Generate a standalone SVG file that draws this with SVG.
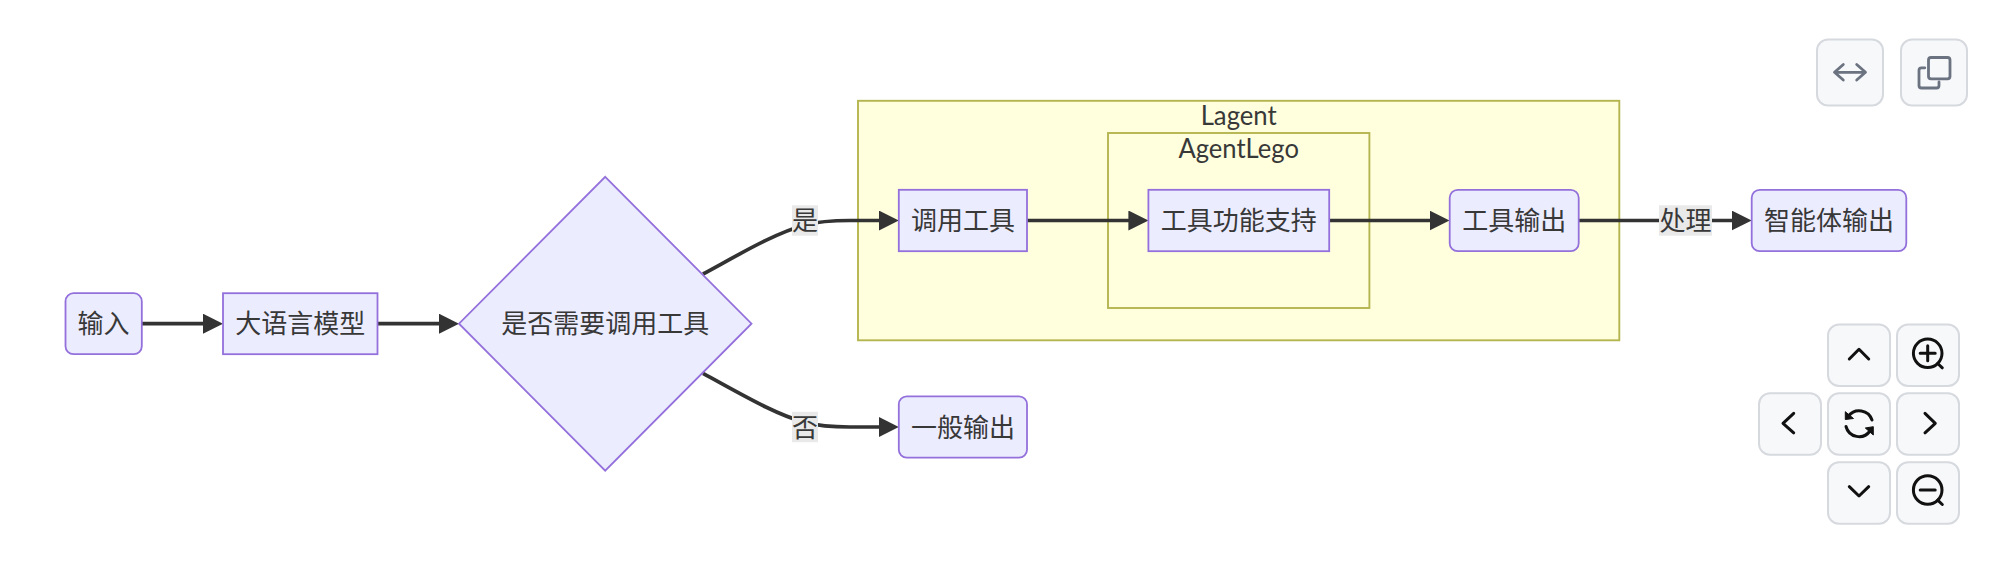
<svg xmlns="http://www.w3.org/2000/svg" width="2006" height="578" viewBox="0 0 2006 578">
<style>
.node{fill:#ececff;stroke:#9370db;stroke-width:1.8}
.cluster{fill:#ffffde;stroke:#b5b550;stroke-width:1.9}
text{font-family:"Noto Sans CJK SC","Noto Sans",sans-serif;font-size:26px;fill:#383838;text-anchor:middle}
.lat{font-family:"Lato","Noto Sans",sans-serif;font-size:27px}
.edge{fill:none;stroke:#333;stroke-width:3.7}
.lbl{fill:#e9e9e9}
.btn{fill:#f7f8fa;stroke:#d6d9de;stroke-width:2}
.ig{fill:none;stroke:#6b7280;stroke-width:2.8;stroke-linecap:round;stroke-linejoin:round}
.ik{fill:none;stroke:#111;stroke-width:3;stroke-linecap:round;stroke-linejoin:round}
</style>
<defs>
<marker id="arrow" markerUnits="userSpaceOnUse" viewBox="0 0 10 10" markerWidth="20" markerHeight="20" refX="5" refY="5" orient="auto"><path d="M0,0L10,5L0,10z" fill="#333"/></marker>
</defs>
<rect width="2006" height="578" fill="#fff"/>
<g id="clusters">
<g id="Lagent"><rect class="cluster" x="858" y="100.8" width="761.3" height="239.5"/><text class="lat" x="1238.7" y="125" textLength="76" lengthAdjust="spacingAndGlyphs">Lagent</text></g>
<g id="AgentLego"><rect class="cluster" x="1108" y="133" width="261.4" height="175"/><text class="lat" x="1238.7" y="158" textLength="120.5" lengthAdjust="spacingAndGlyphs">AgentLego</text></g>
</g>
<g id="connectors">
<path class="edge" marker-end="url(#arrow)" d="M141.8,323.7H213"/>
<path class="edge" marker-end="url(#arrow)" d="M377.5,323.7H449"/>
<path class="edge" marker-end="url(#arrow)" d="M703,274C740,254 775,233 805,225C818,221.5 832,220.5 850,220.5H888.8"/>
<path class="edge" marker-end="url(#arrow)" d="M703,373.4C740,393.4 775,414.4 805,422.4C818,425.9 832,427 850,427H888.8"/>
<path class="edge" marker-end="url(#arrow)" d="M1027,220.5H1138.4"/>
<path class="edge" marker-end="url(#arrow)" d="M1329.2,220.5H1439.5"/>
<path class="edge" marker-end="url(#arrow)" d="M1578.7,220.5H1741.7"/>
</g>
<g id="edge-labels">
<g id="label-yes"><rect class="lbl" x="792" y="205.3" width="26" height="30.4"/><text x="805" y="230">是</text></g>
<g id="label-no"><rect class="lbl" x="792" y="411.8" width="26" height="30.4"/><text x="805" y="436.5">否</text></g>
<g id="label-process"><rect class="lbl" x="1659" y="205.3" width="53" height="30.4"/><text x="1685.5" y="230">处理</text></g>
</g>
<g id="n-input"><rect class="node" x="65.5" y="293.2" width="76.3" height="61" rx="8"/><text x="103.6" y="333.2">输入</text></g>
<g id="n-llm"><rect class="node" x="223" y="293.2" width="154.5" height="61"/><text x="300.2" y="333.2">大语言模型</text></g>
<g id="n-decide"><polygon class="node" points="605.2,176.8 751.5,323.7 605.2,470.6 459,323.7"/><text x="605.2" y="333.2">是否需要调用工具</text></g>
<g id="n-call"><rect class="node" x="898.8" y="189.8" width="128.2" height="61.4"/><text x="962.9" y="230">调用工具</text></g>
<g id="n-support"><rect class="node" x="1148.4" y="189.8" width="180.8" height="61.4"/><text x="1238.8" y="230">工具功能支持</text></g>
<g id="n-output"><rect class="node" x="1449.7" y="189.8" width="129" height="61.4" rx="8"/><text x="1514.2" y="230">工具输出</text></g>
<g id="n-agent"><rect class="node" x="1751.7" y="189.8" width="154.6" height="61.4" rx="8"/><text x="1829" y="230">智能体输出</text></g>
<g id="n-plain"><rect class="node" x="898.8" y="396.3" width="128.2" height="61.4" rx="8"/><text x="962.9" y="436.5">一般输出</text></g>
<g id="toolbar">
<rect class="btn" x="1817" y="39.5" width="66" height="66" rx="11"/>
<path class="ig" d="M1834.5,72.3H1865.5M1843.3,64.5L1834.5,72.3L1843.3,80M1856.7,64.5L1865.5,72.3L1856.7,80"/>
<rect class="btn" x="1901" y="39.5" width="66" height="66" rx="11"/>
<rect class="ig" x="1928.5" y="57.5" width="21.5" height="21.3" rx="2.5"/>
<path class="ig" d="M1924.8,67.8H1921.5Q1919,67.8 1919,70.3V85.5Q1919,88 1921.5,88H1936.5Q1939,88 1939,85.5V82"/>
<rect class="btn" x="1828" y="324.5" width="62" height="61.5" rx="11"/>
<path class="ik" d="M1849.3,359L1859,349.3L1868.7,359"/>
<rect class="btn" x="1897" y="324.5" width="62" height="61.5" rx="11"/>
<circle class="ik" cx="1927.7" cy="353.3" r="14.3"/><path class="ik" d="M1920.2,353.3H1935.2M1927.7,345.8V360.8M1937.7,363.5L1942.3,367.8"/>
<rect class="btn" x="1759" y="393.3" width="62" height="61.5" rx="11"/>
<path class="ik" d="M1793.7,413.3L1783,423.3L1793.7,432.8"/>
<rect class="btn" x="1828" y="393.3" width="62" height="61.5" rx="11"/>
<path class="ik" d="M1872,420A13.5,13.5 0 0 0 1848.5,416M1846,426.5A13.5,13.5 0 0 0 1870,431"/>
<path d="M1845.3,411.7V419.5L1853.5,418.5z M1873.3,426.7V435L1865.3,428z" fill="#111" stroke="#111" stroke-width="1" stroke-linejoin="round"/>
<rect class="btn" x="1897" y="393.3" width="62" height="61.5" rx="11"/>
<path class="ik" d="M1925,413.3L1935.3,423.3L1925,432.8"/>
<rect class="btn" x="1828" y="462.3" width="62" height="61.5" rx="11"/>
<path class="ik" d="M1849.3,486.7L1859,496L1868.7,486.7"/>
<rect class="btn" x="1897" y="462.3" width="62" height="61.5" rx="11"/>
<circle class="ik" cx="1927.7" cy="490" r="14.3"/><path class="ik" d="M1920.2,490H1935.2M1937.7,500.2L1942.3,504.5"/>
</g>
</svg>
